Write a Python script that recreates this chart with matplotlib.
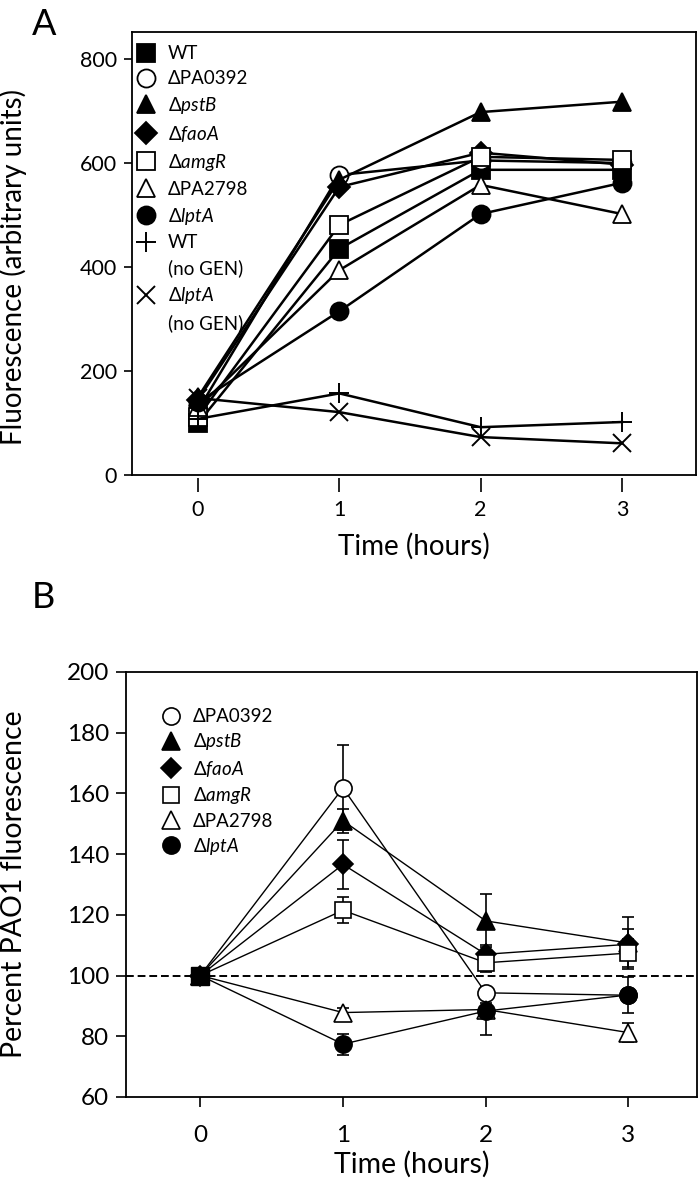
import matplotlib
matplotlib.use("Agg")

import matplotlib.pyplot as plt
from matplotlib.lines import Line2D

plt.rcParams['font.family'] = ['Lato', 'DejaVu Sans']
plt.rcParams['mathtext.fontset'] = 'custom'
plt.rcParams['mathtext.rm'] = 'Lato'
plt.rcParams['mathtext.it'] = 'Lato:italic'
plt.rcParams['mathtext.fallback'] = 'stixsans'

hours = [0, 1, 2, 3]

# panel A - fluorescence (arbitrary units)
wt = [100, 435, 587, 587]
pa0392 = [125, 577, 605, 600]
pstb = [150, 568, 698, 718]
faoa = [145, 554, 620, 597]
amgr = [112, 481, 612, 606]
pa2798 = [130, 394, 558, 502]
lpta = [140, 315, 502, 562]
wt_nogen = [108, 157, 92, 102]
lpta_nogen = [148, 121, 73, 61]

# panel B - percent of PAO1 fluorescence, mean and error
b_pa0392 = [100, 161.8, 94.3, 93.5]
b_pa0392_err = [0, 14, 2, 2]
b_pstb = [100, 151, 118, 110.7]
b_pstb_err = [0, 4, 8.7, 8.6]
b_faoa = [100, 136.6, 107, 110.3]
b_faoa_err = [0, 8, 3, 5]
b_amgr = [100, 121.5, 104.2, 107.4]
b_amgr_err = [0, 4.3, 3, 4.7]
b_pa2798 = [100, 87.8, 88.8, 81.2]
b_pa2798_err = [0, 1.5, 2, 3]
b_lpta = [100, 77.4, 88.3, 93.6]
b_lpta_err = [0, 3.5, 8, 6]

lab_wt = "WT"
lab_pa0392 = "\u0394PA0392"
lab_pstb = "\u0394$\\it{pstB}$"
lab_faoa = "\u0394$\\it{faoA}$"
lab_amgr = "\u0394$\\it{amgR}$"
lab_pa2798 = "\u0394PA2798"
lab_lpta = "\u0394$\\it{lptA}$"

# marker, face colour
styles = {
    "wt": ("s", "black"),
    "pa0392": ("o", "white"),
    "pstb": ("^", "black"),
    "faoa": ("D", "black"),
    "amgr": ("s", "white"),
    "pa2798": ("^", "white"),
    "lpta": ("o", "black"),
    "wt_nogen": ("+", "black"),
    "lpta_nogen": ("x", "black"),
}
msizes = {"s": 12.5, "o": 13, "^": 13, "D": 11, "+": 15, "x": 13}

fig = plt.figure(figsize=(7, 11.9), dpi=100)

# ---------------- panel A ----------------
axA = fig.add_axes([0.1886, 0.6008, 0.8057, 0.3723])
seriesA = [
    ("wt", wt, lab_wt),
    ("pa0392", pa0392, lab_pa0392),
    ("pstb", pstb, lab_pstb),
    ("faoa", faoa, lab_faoa),
    ("amgr", amgr, lab_amgr),
    ("pa2798", pa2798, lab_pa2798),
    ("lpta", lpta, lab_lpta),
    ("wt_nogen", wt_nogen, None),
    ("lpta_nogen", lpta_nogen, None),
]
for key, vals, lab in seriesA:
    m, fc = styles[key]
    axA.plot(hours, vals, color="black", lw=1.8, marker=m, ms=msizes[m],
             mfc=fc, mec="black", mew=1.3 if m not in "+x" else 1.4)

axA.set_xlim(-0.467, 3.524)
axA.set_ylim(0, 852)
axA.set_yticks([0, 200, 400, 600, 800])
axA.tick_params(axis="y", direction="out", length=6, width=1.2, labelsize=15.5, pad=5)
axA.set_xticks([])
secA = axA.secondary_xaxis(-0.007)
secA.set_xticks(hours)
secA.spines["bottom"].set_visible(False)
secA.tick_params(axis="x", direction="out", length=10, width=1.2, labelsize=15.5, pad=6)
for sp in axA.spines.values():
    sp.set_linewidth(1.3)
axA.set_ylabel("Fluorescence (arbitrary units)", fontsize=20)
axA.yaxis.set_label_coords(-0.186, 0.47)
secA.set_xlabel("Time (hours)", fontsize=20, labelpad=9)

handlesA = []
labelsA = []
for key, vals, lab in seriesA[:7]:
    m, fc = styles[key]
    handlesA.append(Line2D([], [], ls="none", marker=m, ms=msizes[m], mfc=fc,
                           mec="black", mew=1.3))
    labelsA.append(lab)
blank = Line2D([], [], ls="none")
handlesA += [Line2D([], [], ls="none", marker="+", ms=15, mec="black", mew=1.4), blank,
             Line2D([], [], ls="none", marker="x", ms=13, mec="black", mew=1.4), blank]
labelsA += ["WT", "(no GEN)", lab_lpta, "(no GEN)"]
axA.legend(handlesA, labelsA, loc="upper left", bbox_to_anchor=(0.009, 0.97),
           frameon=False, fontsize=13.5, handlelength=1.0, handletextpad=0.65,
           labelspacing=0.42, borderaxespad=0, borderpad=0, numpoints=1)
fig.text(0.045, 0.993, "A", fontsize=26, va="top", ha="left")

# ---------------- panel B ----------------
axB = fig.add_axes([0.18, 0.0782, 0.8157, 0.3571])
axB.axhline(100, color="black", lw=1.4, ls=(0, (4, 2)), zorder=1)
seriesB = [
    ("pa0392", b_pa0392, b_pa0392_err, lab_pa0392),
    ("pstb", b_pstb, b_pstb_err, lab_pstb),
    ("faoa", b_faoa, b_faoa_err, lab_faoa),
    ("amgr", b_amgr, b_amgr_err, lab_amgr),
    ("pa2798", b_pa2798, b_pa2798_err, lab_pa2798),
    ("lpta", b_lpta, b_lpta_err, lab_lpta),
]
for key, vals, err, lab in seriesB:
    m, fc = styles[key]
    axB.errorbar(hours, vals, yerr=err, color="black", lw=1.0, elinewidth=1.2,
                 capsize=4.5, capthick=1.2, marker=m, ms=msizes[m] * 0.95,
                 mfc=fc, mec="black", mew=1.2, label=lab, zorder=3)
# the 0 h point is the reference
axB.plot([0], [100], ls="none", marker="s", ms=13, mfc="black", mec="black", zorder=4)

axB.set_xlim(-0.52, 3.48)
axB.set_ylim(60, 200)
axB.set_yticks(range(60, 201, 20))
axB.set_xticks(hours)
axB.tick_params(axis="both", direction="out", length=7, width=1.2, labelsize=17.5, pad=5)
axB.tick_params(axis="x", pad=13)
for sp in axB.spines.values():
    sp.set_linewidth(1.3)
axB.set_ylabel("Percent PAO1 fluorescence", fontsize=20.5)
axB.yaxis.set_label_coords(-0.173, 0.5)
axB.set_xlabel("Time (hours)", fontsize=20.5, labelpad=4)

handlesB = []
labelsB = []
for key, vals, err, lab in seriesB:
    m, fc = styles[key]
    handlesB.append(Line2D([], [], ls="none", marker=m, ms=msizes[m] * 0.95, mfc=fc,
                           mec="black", mew=1.2))
    labelsB.append(lab)
axB.legend(handlesB, labelsB, loc="upper left", bbox_to_anchor=(0.063, 0.915),
           frameon=False, fontsize=13.5, handlelength=1.0, handletextpad=0.65,
           labelspacing=0.34, borderaxespad=0, borderpad=0, numpoints=1)
fig.text(0.045, 0.512, "B", fontsize=26, va="top", ha="left")

fig.savefig("out.png", dpi=100)
